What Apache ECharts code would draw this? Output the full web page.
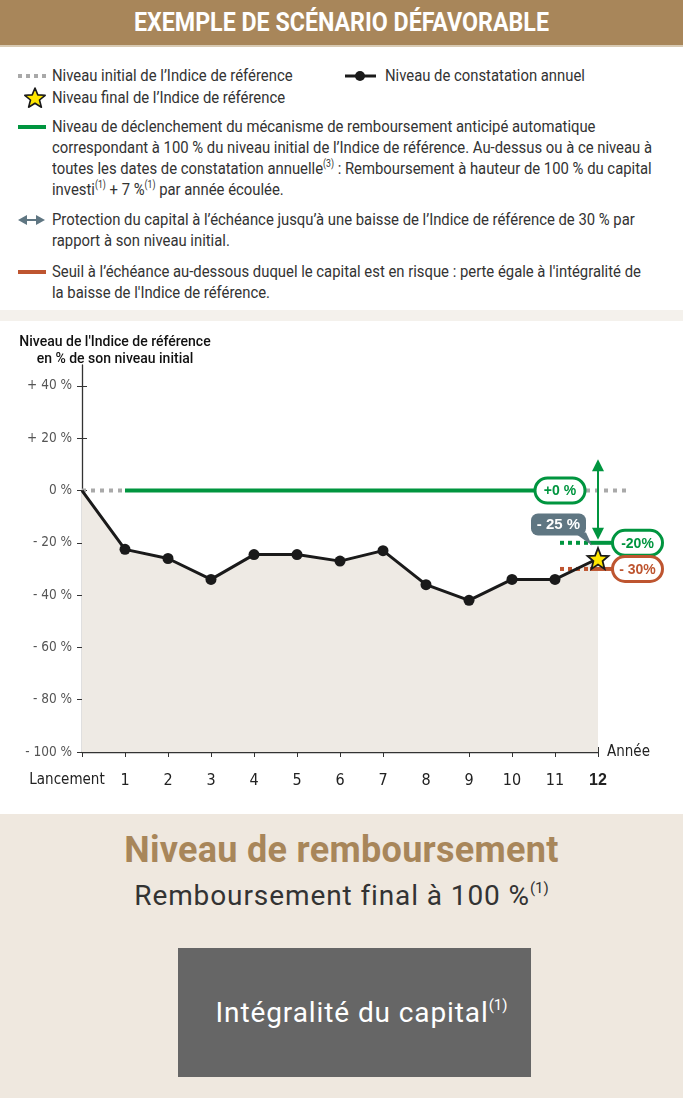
<!DOCTYPE html>
<html><head><meta charset="utf-8">
<script src="https://cdn.jsdelivr.net/npm/echarts@6.0.0/dist/echarts.min.js"></script>
<style>
html,body{margin:0;padding:0;}
body{width:683px;height:1098px;overflow:hidden;background:#fff;position:relative;font-family:Roboto,"DejaVu Sans",sans-serif;}
#header{position:absolute;left:0;top:0;width:683px;height:45px;background:#A8865A;border-bottom:2px solid #D8CAB3;text-align:center;}
#header span{display:inline-block;color:#fff;font-weight:bold;font-size:25px;line-height:45px;transform-origin:center center;white-space:nowrap;}
.lg{position:absolute;left:52px;font-size:17px;line-height:21px;height:21px;color:#333;white-space:nowrap;transform-origin:left center;}
.lg sup{font-size:10px;vertical-align:7px;line-height:0;}
#band{position:absolute;left:0;top:310px;width:683px;height:11px;background:#F4F1EC;}
#chart{position:absolute;left:0;top:320px;width:683px;height:494px;}
#bottom{position:absolute;left:0;top:814px;width:683px;height:284px;background:#EFE8DF;}
#t1{position:absolute;left:0;width:683px;top:825px;text-align:center;font-weight:bold;font-size:36px;color:#A8865A;line-height:50px;letter-spacing:0.3px;}
#t2{position:absolute;left:0;width:683px;top:877px;text-align:center;font-size:28px;color:#333;line-height:38px;letter-spacing:0.9px;}
#t2 sup,#box sup{font-size:15px;vertical-align:12px;line-height:0;letter-spacing:0;}
#box{position:absolute;left:178px;top:948px;width:353px;height:129px;background:#666666;color:#fff;font-size:28px;line-height:129px;text-align:center;letter-spacing:0.9px;box-sizing:border-box;padding-left:14px;}
svg.sym{position:absolute;left:0;top:0;}
</style>
</head><body>
<div id="header"><span id="htxt">EXEMPLE DE SCÉNARIO DÉFAVORABLE</span></div>

<svg class="sym" width="683" height="310">
  <line x1="18" y1="76" x2="46" y2="76" stroke="#A9A9A9" stroke-width="4" stroke-dasharray="4,4"/>
  <line x1="345" y1="76" x2="376" y2="76" stroke="#1a1a1a" stroke-width="3"/>
  <circle cx="360" cy="76" r="5" fill="#1a1a1a"/>
  <path d="M35,88 L37.8,94.9 L45.2,95.3 L39.5,100 L41.4,107.2 L35,103.2 L28.6,107.2 L30.5,100 L24.8,95.3 L32.2,94.9 Z" fill="#FFE600" stroke="#1a1a1a" stroke-width="1.6" stroke-linejoin="round"/>
  <line x1="18" y1="127" x2="46" y2="127" stroke="#00953F" stroke-width="4"/>
  <polygon points="18,220 27,215 27,225" fill="#5F7682"/>
  <polygon points="45,220 36,215 36,225" fill="#5F7682"/>
  <line x1="26" y1="220" x2="37" y2="220" stroke="#5F7682" stroke-width="2"/>
  <line x1="18" y1="272" x2="46" y2="272" stroke="#BE5530" stroke-width="4"/>
</svg>

<div class="lg" style="top:65px">Niveau initial de l’Indice de référence</div>
<div class="lg" style="top:65px;left:385px">Niveau de constatation annuel</div>
<div class="lg" style="top:87px">Niveau final de l’Indice de référence</div>
<div class="lg" style="top:116px">Niveau de déclenchement du mécanisme de remboursement anticipé automatique</div>
<div class="lg" id="refline" style="top:137px">correspondant à 100 % du niveau initial de l’Indice de référence. Au-dessus ou à ce niveau à</div>
<div class="lg" style="top:158px">toutes les dates de constatation annuelle<sup>(3)</sup> : Remboursement à hauteur de 100 % du capital</div>
<div class="lg" style="top:179px">investi<sup>(1)</sup> + 7 %<sup>(1)</sup> par année écoulée.</div>
<div class="lg" style="top:209px">Protection du capital à l’échéance jusqu’à une baisse de l’Indice de référence de 30 % par</div>
<div class="lg" style="top:230px">rapport à son niveau initial.</div>
<div class="lg" style="top:261px">Seuil à l’échéance au-dessous duquel le capital est en risque : perte égale à l'intégralité de</div>
<div class="lg" style="top:282px">la baisse de l'Indice de référence.</div>

<div id="band"></div>
<div id="chart"></div>

<div id="bottom"></div>
<div id="t1">Niveau de remboursement</div>
<div id="t2">Remboursement final à 100 %<sup>(1)</sup></div>
<div id="box">Intégralité du capital<sup>(1)</sup></div>

<script>
// ---- text fitting (condensed look) ----
(function(){
  const ref = document.getElementById('refline');
  const s = 600 / ref.getBoundingClientRect().width;
  document.querySelectorAll('.lg').forEach(el => { el.style.transform = 'scaleX(' + s + ')'; });
  const h = document.getElementById('htxt');
  h.style.transform = 'scaleX(' + (415 / h.getBoundingClientRect().width) + ')';
})();

// ---- data ----
const years = [0,1,2,3,4,5,6,7,8,9,10,11,12];
const xTickLabels = ['Lancement','1','2','3','4','5','6','7','8','9','10','11','12'];
const xTickMarks = [0,1,2,3,4,5,6,7,9,10,11,12];
const levels = [0,-22.5,-26,-34,-24.5,-24.5,-27,-23,-36,-42,-34,-34,-26];
const yTicks = [-100,-80,-60,-40,-20,0,20,40];
const yTickLabels = ['- 100 %','- 80 %','- 60 %','- 40 %','- 20 %','0 %','+ 20 %','+ 40 %'];
const initialLevel = 0;
const triggerLevel = 0;
const protectionLevel = -20;
const barrierLevel = -30;
const arrowTopLevel = 12;
const triggerLabel = '+0 %';
const protectionLabel = '-20%';
const barrierLabel = '- 30%';
const finalLabel = '- 25 %';
const axisTitle = ["Niveau de l'Indice de référence", 'en % de son niveau initial'];

const FONT = '"DejaVu Sans Condensed","DejaVu Sans",sans-serif';
const BFONT = '"Liberation Sans","DejaVu Sans",sans-serif';
const GREEN = '#00953F', RED = '#BE5530', SLATE = '#5F7682', DOTGRAY = '#A9A9A9', INK = '#1a1a1a';
const STAR = 'path://M12,1 L14.9,8.3 L22.5,8.6 L16.6,13.5 L18.6,21 L12,16.8 L5.4,21 L7.4,13.5 L1.5,8.6 L9.1,8.3 Z';

const lineData = years.map((x,i) => {
  const it = {value:[x, levels[i]]};
  if (i === 0) it.symbol = 'none';
  if (i === years.length-1) {
    it.symbol = STAR; it.symbolSize = 21;
    it.itemStyle = {color:'#FFE600', borderColor:INK, borderWidth:1.8};
  }
  return it;
});

function box(cx, cy, w, h, color, text, els){
  els.push({type:'rect', shape:{x:cx-w/2, y:cy-h/2, width:w, height:h, r:h/2},
            style:{fill:'#fff', stroke:color, lineWidth:3}});
  els.push({type:'text', style:{text:text, x:cx, y:cy+1, align:'center', verticalAlign:'middle',
            fill:color, font:'bold 14px ' + BFONT}});
}

function renderAnno(params, api){
  const P = (x,y) => api.coord([x,y]);
  const els = [];
  const p0 = P(years[0], initialLevel), p1 = P(years[1], initialLevel);
  const pEnd = P(years[years.length-1], levels[levels.length-1]);
  const x12 = pEnd[0], yFin = pEnd[1];
  const yTrig = P(0, triggerLevel)[1], yProt = P(0, protectionLevel)[1];
  const yBar = P(0, barrierLevel)[1], yTop = P(0, arrowTopLevel)[1];
  els.push({type:'line', shape:{x1:p0[0], y1:p0[1], x2:p1[0], y2:p1[1]},
            style:{stroke:DOTGRAY, lineWidth:4, lineDash:[4,5]}});
  els.push({type:'line', shape:{x1:p1[0], y1:yTrig, x2:x12-50, y2:yTrig}, style:{stroke:GREEN, lineWidth:4}});
  els.push({type:'line', shape:{x1:x12-12, y1:yTrig, x2:x12+28, y2:yTrig},
            style:{stroke:DOTGRAY, lineWidth:4, lineDash:[4,5]}});
  box(x12-38, yTrig, 50, 25, GREEN, triggerLabel, els);
  els.push({type:'line', shape:{x1:x12, y1:yTop+8, x2:x12, y2:yProt-8}, style:{stroke:GREEN, lineWidth:2}});
  els.push({type:'polygon', shape:{points:[[x12,yTop],[x12-6,yTop+12],[x12+6,yTop+12]]}, style:{fill:GREEN}});
  els.push({type:'polygon', shape:{points:[[x12,yProt-3],[x12-6,yProt-15],[x12+6,yProt-15]]}, style:{fill:GREEN}});
  els.push({type:'line', shape:{x1:x12-38, y1:yProt, x2:x12-8, y2:yProt}, style:{stroke:GREEN, lineWidth:4, lineDash:[4,4]}});
  els.push({type:'line', shape:{x1:x12-8, y1:yProt, x2:x12+15, y2:yProt}, style:{stroke:GREEN, lineWidth:4}});
  box(x12+39.5, yProt, 50, 25, GREEN, protectionLabel, els);
  els.push({type:'line', shape:{x1:x12-38, y1:yBar, x2:x12-8, y2:yBar}, style:{stroke:RED, lineWidth:4, lineDash:[4,4]}});
  els.push({type:'line', shape:{x1:x12-8, y1:yBar, x2:x12+15, y2:yBar}, style:{stroke:RED, lineWidth:4}});
  box(x12+39.5, yBar, 50, 25, RED, barrierLabel, els);
  els.push({type:'polygon', shape:{points:[[x12-24,yFin-26],[x12-12,yFin-26],[x12-6,yFin-13]]}, style:{fill:SLATE}});
  els.push({type:'rect', shape:{x:x12-67, y:yFin-45, width:55, height:22, r:7}, style:{fill:SLATE}});
  els.push({type:'text', style:{text:finalLabel, x:x12-39.5, y:yFin-33.5, align:'center', verticalAlign:'middle',
            fill:'#fff', font:'bold 15px ' + BFONT}});
  return {type:'group', children:els};
}

const chart = echarts.init(document.getElementById('chart'));
chart.setOption({
  animation:false,
  grid:{left:82, right:85, top:45, bottom:62},
  graphic:[
    {type:'text', x:115, y:14, style:{text:axisTitle[0] + '\n' + axisTitle[1], align:'center', verticalAlign:'top',
      fill:'#111', font:'500 14px Roboto, "Liberation Sans", sans-serif', lineHeight:17}}
  ],
  xAxis:[{
    type:'value', min:0, max:12, interval:1,
    axisLine:{onZero:false, lineStyle:{color:'#333', width:1.3}},
    axisTick:{length:5, customValues:xTickMarks, lineStyle:{color:'#333'}},
    axisLabel:{customValues:years, margin:21, color:'#222', fontFamily:FONT, fontSize:16,
      formatter:function(v){
        const i = years.indexOf(v); const t = xTickLabels[i];
        if (i === 0) return '{l|' + t + '}';
        if (i === years.length-1) return '{b|' + t + '}';
        return t;
      },
      rich:{l:{fontFamily:FONT, fontSize:15, color:'#222', padding:[0,30,0,0]},
            b:{fontFamily:BFONT, fontWeight:'bold', fontSize:16, color:'#222'}}},
    splitLine:{show:false},
    name:'Année', nameLocation:'end', nameGap:9,
    nameTextStyle:{color:'#222', fontFamily:FONT, fontSize:15, padding:[8,0,0,0]}
  },{
    type:'value', min:0, max:12, interval:1, position:'bottom',
    axisLine:{show:false, onZero:false},
    axisTick:{inside:true, length:5, customValues:xTickMarks, lineStyle:{color:'#333'}},
    axisLabel:{show:false}, splitLine:{show:false}
  }],
  yAxis:[{
    type:'value', min:-100, max:48,
    axisLine:{show:true, onZero:false, lineStyle:{color:'#333', width:1.3}},
    axisTick:{show:true, length:5, customValues:yTicks, lineStyle:{color:'#333'}},
    axisLabel:{customValues:yTicks, margin:10, color:'#555', fontFamily:FONT, fontSize:13.5,
      formatter:function(v){ return yTickLabels[yTicks.indexOf(v)]; }},
    splitLine:{show:false}
  },{
    type:'value', min:-100, max:48, position:'left',
    axisLine:{show:false, onZero:false},
    axisTick:{show:true, inside:true, length:5, customValues:yTicks, lineStyle:{color:'#333'}},
    axisLabel:{show:false}, splitLine:{show:false}
  }],
  series:[
    {type:'line', data:years.map((x,i)=>[x,levels[i]]), symbol:'none', lineStyle:{width:0},
     areaStyle:{color:'#EEEAE4', opacity:1, origin:'start'}, z:1, silent:true},
    {type:'custom', data:[[0,0]], renderItem:renderAnno, clip:false, z:3, silent:true},
    {type:'line', data:lineData, symbol:'circle', symbolSize:11,
     lineStyle:{color:INK, width:3}, itemStyle:{color:INK}, z:5, clip:false}
  ]
});
</script>
</body></html>
